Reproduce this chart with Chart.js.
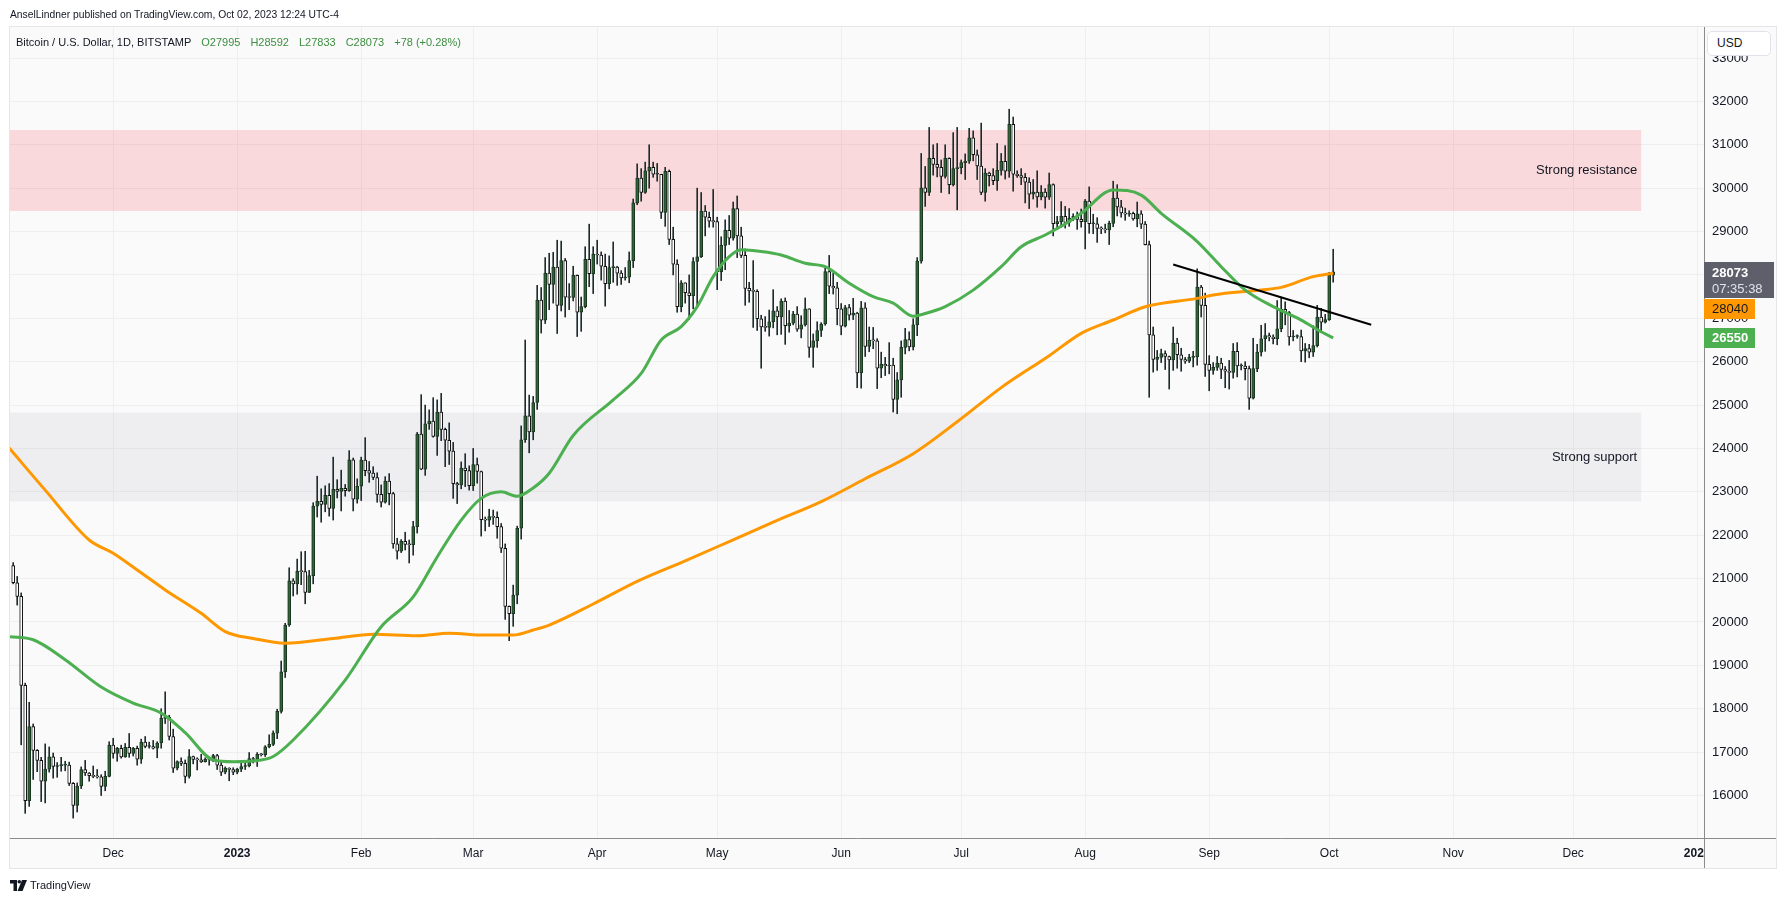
<!DOCTYPE html>
<html>
<head>
<meta charset="utf-8">
<script src="https://cdn.jsdelivr.net/npm/chart.js@4.4.0/dist/chart.umd.min.js"></script>
<style>
  html, body { margin: 0; padding: 0; background: #ffffff; }
  body { width: 1787px; height: 904px; position: relative; overflow: hidden; font-family: "Liberation Sans", Arial, sans-serif; color: #131722; }
  #chart { position: absolute; left: 0; top: 0; }
  .txt { position: absolute; white-space: nowrap; }
  #published { left: 10px; top: 9px; font-size: 10.3px; }
  #legend { left: 16px; top: 36px; font-size: 11px; }
  #legend .val { color: #3e8e41; margin-left: 10px; }
  #usd { position: absolute; left: 1707px; top: 31px; width: 64px; height: 25px; background: #fff; border: 1px solid #e0e3eb; border-radius: 5px; box-sizing: border-box; font-size: 12px; line-height: 23px; padding-left: 9px; }
  #corner { position: absolute; left: 1704px; top: 838px; width: 72px; height: 30px; background: #fafafa; border-left: 1px solid #8b8b8b; border-top: 1px solid #8b8b8b; box-sizing: border-box; }
  #brand { left: 10px; top: 879px; font-size: 11px; display: flex; align-items: center; }
  #brand svg { margin-right: 3px; }
</style>
</head>
<body>
<canvas id="chart" width="1787" height="904"></canvas>
<div class="txt" id="published">AnselLindner published on TradingView.com, Oct 02, 2023 12:24 UTC-4</div>
<div class="txt" id="legend">Bitcoin / U.S. Dollar, 1D, BITSTAMP<span class="val">O27995</span><span class="val">H28592</span><span class="val">L27833</span><span class="val">C28073</span><span class="val">+78 (+0.28%)</span></div>
<div id="usd">USD</div>
<div id="corner"></div>
<div class="txt" id="brand"><svg width="17" height="11" viewBox="0 0 17 11"><path d="M0 0h7v11H3.5V3.5H0z" fill="#131722"/><circle cx="9.3" cy="1.8" r="1.8" fill="#131722"/><path d="M12 0h5l-4.5 11H7.5z" fill="#131722"/></svg>TradingView</div>
<script>
// daily candles from Nov 6 2022 (day 0) to Oct 2 2023 (day 330)
const firstOpen = 21300;
const closes = [
  // Nov 2022 (from the 6th)
  20905,20590,18540,15880,17590,17040,16810,16330,16610,16890,16670,16690,16700,16700,16280,15770,16220,16600,16520,16460,16440,16430,16210,16440,17160,
  // Dec
  16970,17090,16890,17110,16970,17090,16840,17230,17130,17130,17090,17210,17780,17800,17360,16630,16780,16740,16440,16900,16830,16820,16780,16840,16830,16920,16700,16540,16630,16600,16540,
  // Jan 2023
  16610,16670,16680,16850,16830,16950,16940,17120,17180,17440,17940,18850,19930,20950,20880,21170,21160,20680,21070,22670,22780,22710,22920,22620,23060,23010,23080,23030,23740,22830,23130,
  // Feb
  23730,23490,23430,23330,22940,22760,23250,22960,21800,21630,21860,21790,21780,22200,24330,23520,24570,24630,24280,24840,24440,24190,23940,23190,23160,23550,23490,23140,
  // Mar
  23630,23470,22360,22350,22430,22410,22200,21700,20360,20190,20620,22160,24200,24750,24380,25060,27420,26960,28040,27780,28180,27300,28330,27490,27480,27990,27140,27270,28360,28030,28480,
  // Apr
  28460,28200,27800,28170,28180,28040,27930,27950,28330,29660,30230,29900,30400,30480,30320,30320,29440,30390,28820,28250,27270,27820,27590,27520,28310,28420,29470,29330,29240,29230,
  // May
  28070,28680,29030,28850,29530,28900,28450,27690,27630,27620,26990,26800,26790,26920,27170,27030,27400,26830,26890,27100,26750,26850,27220,26330,26480,26720,26870,28080,27740,27700,27220,
  // Jun
  26820,27250,27070,27120,25740,27240,26350,26500,26480,25850,25940,25900,25920,25130,25580,26330,26510,26340,26850,28320,30010,29900,30690,30550,30480,30270,30690,30080,30450,30470,
  // Jul
  30590,30620,31160,30770,30510,29900,30350,30290,30170,30410,30620,30390,31470,30320,30290,30250,30140,29860,29910,29800,29910,29790,30080,29180,29230,29350,29210,29310,29350,29280,29230,
  // Aug
  29700,29180,29180,29070,29060,29040,29190,29770,29570,29430,29400,29420,29290,29410,29170,28700,26620,26050,26100,26190,26120,26040,26430,26160,26050,26010,26100,26110,27720,27300,25940,
  // Sep
  25800,25870,25970,25820,25780,25750,26240,25900,25900,25840,25160,25840,26220,26530,26600,26570,26530,26760,27210,27130,26570,26580,26580,26250,26300,26220,26370,27030,26910,26970,
  // Oct
  27990,28073
];
const highs = [
  21370,21050,20670,18590,18150,17650,17060,16880,17190,17120,16980,16760,16880,16790,16770,16300,16290,16660,16810,16530,16680,16600,16480,16560,17240,
  17320,17110,17160,17200,17430,17110,17140,17300,17360,17230,17270,17240,18000,18390,17850,17530,16800,16870,16820,17060,16910,16870,16950,16870,16870,16950,16950,16790,16660,16640,16640,
  16630,16760,16770,16990,16880,16990,16970,17150,17400,17490,17990,19100,19970,21250,21000,21450,21620,21630,21190,22750,23360,23070,23140,23190,23800,23280,23500,23170,23950,23780,23300,
  23800,24250,23700,23580,23440,23160,23350,23420,22990,21930,21900,22070,21890,22320,24370,25240,25000,24890,25170,25120,25270,24470,24590,24140,23220,23690,23880,23600,
  24000,23780,23480,22420,22600,22580,22540,22270,21800,20370,20850,22210,24520,26500,25230,25200,27760,27710,28400,28500,28520,28800,28780,28380,27800,28200,28000,27490,28650,29170,28650,
  28800,28530,28480,28440,28760,28200,28100,28170,28530,29750,30560,30450,30600,31000,30600,30570,30320,30480,30420,29100,28350,27870,27820,28000,28400,30000,29900,29600,29450,29970,
  29330,28880,29270,29370,29680,29820,29100,28600,27830,28330,27660,27070,27040,27190,27660,27270,27450,27470,27180,27160,27270,27060,27470,27220,26640,26920,26900,28200,28450,28040,27830,
  27340,27300,27320,27460,27140,27390,27360,26800,26790,26530,26220,26100,26440,26080,25750,26480,26770,26690,26990,28400,30800,30500,31400,31000,31030,30650,31000,30700,31280,31400,
  30650,30790,31380,31320,30880,31500,30450,30370,30450,31030,30800,30980,31820,31640,30400,30450,30340,30240,30200,30400,30060,29990,30350,30100,29350,29690,29580,29530,29410,29450,29520,
  29740,30030,29400,29320,29110,29170,29240,30160,30080,29720,29540,29480,29450,29680,29480,29230,28780,26800,26260,26290,26250,26130,26800,26540,26310,26100,26170,26240,28140,27760,27580,
  26140,25980,26120,26080,25890,26030,26420,26440,25950,26000,25900,26540,26400,26840,26880,26660,26620,27410,27490,27380,27160,26720,26620,26730,26420,26400,26830,27300,27230,27090,
  28060,28592
];
const lows = [
  20880,20390,17170,15590,15750,16370,16550,15860,15830,16540,16400,16420,16560,16570,16230,15480,15620,16160,16460,16330,16410,16400,16000,16110,16430,
  16860,16790,16860,16880,16880,16910,16700,16740,17100,17090,17070,16870,17090,17660,17280,16530,16590,16690,16290,16400,16730,16590,16760,16770,16700,16780,16600,16460,16500,16340,16480,
  16500,16550,16600,16660,16750,16670,16910,16900,17100,17150,17310,17900,18720,19900,20600,20640,20860,20420,20680,20880,22420,22300,22540,22440,22350,22860,22560,22900,23010,22560,22740,
  22800,23370,23220,23280,22760,22650,22740,22700,21700,21450,21600,21660,21360,21540,22050,23510,23380,24440,24260,23840,24180,23580,23630,22850,22730,23070,23120,23040,
  23030,23200,21980,22100,22200,22250,21930,21600,20060,19570,19900,20420,21910,24140,23900,24200,24900,26660,26880,27200,27350,26650,27170,27030,27200,27400,26580,26700,27240,27730,27570,
  28250,27880,27280,27680,27830,27760,27780,27880,27820,28170,29620,29700,29880,30000,30250,30160,29300,29120,28700,28000,27140,27150,27350,26970,27220,27250,28400,28900,29100,29100,
  27660,27870,28120,28700,28800,28400,28400,27300,27370,26790,26720,25850,26700,26590,26780,26620,26630,26400,26680,26850,26700,26550,26820,26100,25870,26330,26580,26840,27570,27560,26850,
  26620,26800,26960,26970,25400,25390,26120,26230,26300,25380,25630,25680,25720,24840,24800,25180,26180,26250,26270,26600,28270,29580,29830,30300,30260,29900,30230,29870,30050,29500,
  30330,30200,30570,30630,30200,29850,29700,30050,30080,29950,30300,30210,30250,29930,30250,30080,29660,29530,29750,29560,29730,29540,29740,28900,29050,29100,29080,29120,29250,29050,29100,
  28600,28960,28950,28750,28950,28970,28700,29110,29360,29330,29260,29350,29260,29110,29070,28690,25180,25760,25800,25980,25820,25370,25800,25850,25780,25960,25980,25880,25920,27030,25660,
  25330,25710,25800,25610,25400,25370,25620,25650,25810,25580,24900,25140,25770,26130,26240,26480,26410,26390,26690,26850,26380,26480,26540,26000,25990,26090,26120,26340,26670,26890,
  26950,27833
];

// moving averages (day index, price)
const ma50Days   = [-1, 5, 13, 22, 30, 37, 43, 50, 55, 62, 65, 70, 83, 92, 100, 106, 112, 117, 122, 126, 130, 134, 140, 150, 157, 162, 167, 171, 175, 179, 182, 187, 192, 198, 203, 209, 215, 220, 225, 228, 233, 240, 247, 252, 258, 264, 267, 275, 282, 287, 296, 302, 308, 315, 322, 327, 330];
const ma50Values = [19660, 19590, 19130, 18500, 18130, 17900, 17450, 16820, 16780, 16820, 16900, 17280, 18660, 19890, 20580, 21500, 22350, 22850, 23000, 22900, 23090, 23430, 24300, 25120, 25730, 26500, 26810, 27270, 27960, 28420, 28580, 28540, 28460, 28270, 28190, 27810, 27500, 27350, 27050, 27110, 27270, 27650, 28190, 28650, 28920, 29230, 29420, 29960, 29840, 29420, 28770, 28190, 27650, 27270, 26960, 26690, 26550];
const ma200Days   = [-1, 8, 19, 25, 31, 38, 47, 53, 60, 68, 80, 90, 101, 109, 118, 125, 130, 134, 145, 156, 168, 179, 190, 202, 213, 225, 236, 247, 259, 267, 275, 283, 296, 300, 312, 317, 325, 330];
const ma200Values = [24010, 23040, 21890, 21585, 21200, 20740, 20200, 19780, 19620, 19510, 19620, 19720, 19685, 19740, 19700, 19700, 19815, 19930, 20415, 20936, 21409, 21855, 22303, 22775, 23301, 23879, 24615, 25403, 26139, 26654, 26961, 27268, 27460, 27537, 27653, 27714, 27960, 28040];

// drawn trend line and zones
const trendDays = [290, 339.5];
const trendValues = [28240, 26850];
const resistanceZone = [29475, 31340];
const supportZone = [22780, 24830];
const zoneEndDay = 407;

// axis ticks
const monthDays = [25, 56, 87, 115, 146, 176, 207, 237, 268, 299, 329, 360, 390, 421];
const monthLabels = ['Dec', '2023', 'Feb', 'Mar', 'Apr', 'May', 'Jun', 'Jul', 'Aug', 'Sep', 'Oct', 'Nov', 'Dec', '2024'];
const priceTicks = [16000, 17000, 18000, 19000, 20000, 21000, 22000, 23000, 24000, 25000, 26000, 27000, 28000, 29000, 30000, 31000, 32000, 33000];
const timerText = '07:35:38';

// open of each day is the previous day's close (24h market)
const opens = closes.map((c, i) => i === 0 ? firstOpen : closes[i - 1]);
const lastOpen = 27995;
opens[opens.length - 1] = lastOpen;

const upFill = '#2f6436';
const upBorder = '#1a3420';
const downFill = '#ffffff';
const downBorder = '#111111';

const wickData = closes.map((c, i) => ({ x: i, y: [lows[i], highs[i]] }));
const bodyData = closes.map((c, i) => ({ x: i, y: [opens[i], c] }));
const bodyFill = closes.map((c, i) => c >= opens[i] ? upFill : downFill);
const bodyBorder = closes.map((c, i) => c >= opens[i] ? upBorder : downBorder);

const FONT = '"Liberation Sans", Arial, sans-serif';
Chart.defaults.font.family = FONT;
Chart.defaults.color = '#131722';

// pane background, zones and price badges
const panePlugin = {
  id: 'pane',
  beforeDraw(chart) {
    const ctx = chart.ctx;
    ctx.save();
    ctx.fillStyle = '#ffffff';
    ctx.fillRect(0, 0, chart.width, chart.height);
    ctx.fillStyle = '#fafafa';
    ctx.fillRect(10, 27, 1766, 841);
    ctx.strokeStyle = '#e6e6ea';
    ctx.lineWidth = 1;
    ctx.strokeRect(9.5, 26.5, 1767, 842);
    ctx.restore();
  },
  beforeDatasetsDraw(chart) {
    const ctx = chart.ctx;
    const x = chart.scales.x, y = chart.scales.y;
    const area = chart.chartArea;
    const right = x.getPixelForValue(zoneEndDay);
    ctx.save();
    const zones = [
      { v: resistanceZone, color: 'rgba(242, 54, 69, 0.17)', label: 'Strong resistance' },
      { v: supportZone, color: 'rgba(120, 123, 150, 0.09)', label: 'Strong support' }
    ];
    zones.forEach(z => {
      const top = y.getPixelForValue(z.v[1]);
      const bottom = y.getPixelForValue(z.v[0]);
      ctx.fillStyle = z.color;
      ctx.fillRect(area.left, top, right - area.left, bottom - top);
      ctx.fillStyle = '#131722';
      ctx.font = '13px ' + FONT;
      ctx.textAlign = 'right';
      ctx.textBaseline = 'middle';
      ctx.fillText(z.label, right - 4, (top + bottom) / 2);
    });
    ctx.restore();
  },
  afterDraw(chart) {
    const ctx = chart.ctx;
    const y = chart.scales.y;
    const left = chart.chartArea.right;
    const lastClose = closes[closes.length - 1];
    const ma200Last = ma200Values[ma200Values.length - 1];
    const ma50Last = ma50Values[ma50Values.length - 1];
    ctx.save();
    ctx.textAlign = 'left';
    ctx.textBaseline = 'middle';

    const pc = Math.round(y.getPixelForValue(lastClose));
    ctx.fillStyle = '#5d606b';
    ctx.fillRect(left, pc - 10, 70, 36);
    ctx.fillStyle = '#ffffff';
    ctx.font = 'bold 13px ' + FONT;
    ctx.fillText(String(lastClose), left + 8, pc + 1);
    ctx.fillStyle = '#e0e3eb';
    ctx.font = '13px ' + FONT;
    ctx.fillText(timerText, left + 8, pc + 17);

    const po = Math.max(Math.round(y.getPixelForValue(ma200Last)) - 10, pc + 27);
    ctx.fillStyle = '#ff9800';
    ctx.fillRect(left, po, 51, 20);
    ctx.fillStyle = '#131722';
    ctx.font = '13px ' + FONT;
    ctx.fillText(String(ma200Last), left + 8, po + 10.5);

    const pg = Math.round(y.getPixelForValue(ma50Last));
    ctx.fillStyle = '#4caf50';
    ctx.fillRect(left, pg - 10, 51, 20);
    ctx.fillStyle = '#ffffff';
    ctx.font = 'bold 13px ' + FONT;
    ctx.fillText(String(ma50Last), left + 8, pg + 0.5);
    ctx.restore();
  }
};

const chart = new Chart(document.getElementById('chart'), {
  type: 'bar',
  data: {
    datasets: [
      {
        type: 'line',
        data: trendDays.map((d, i) => ({ x: d, y: trendValues[i] })),
        borderColor: '#000000',
        borderWidth: 2,
        pointRadius: 0,
        tension: 0,
        order: -3
      },
      {
        type: 'line',
        data: ma50Days.map((d, i) => ({ x: d, y: ma50Values[i] })),
        borderColor: '#4caf50',
        borderWidth: 3,
        pointRadius: 0,
        cubicInterpolationMode: 'monotone',
        order: -2
      },
      {
        type: 'line',
        data: ma200Days.map((d, i) => ({ x: d, y: ma200Values[i] })),
        borderColor: '#ff9800',
        borderWidth: 3,
        pointRadius: 0,
        cubicInterpolationMode: 'monotone',
        order: -1
      },
      {
        data: bodyData,
        backgroundColor: bodyFill,
        borderColor: bodyBorder,
        borderWidth: 1,
        borderSkipped: false,
        barThickness: 3,
        minBarLength: 1,
        grouped: false,
        order: 0
      },
      {
        data: wickData,
        backgroundColor: '#1e2b2e',
        borderWidth: 0,
        barThickness: 1,
        grouped: false,
        order: 1
      }
    ]
  },
  options: {
    responsive: false,
    devicePixelRatio: 1,
    animation: false,
    layout: { padding: { left: 10, top: 27, right: 11, bottom: 36 } },
    plugins: { legend: { display: false }, tooltip: { enabled: false } },
    scales: {
      x: {
        type: 'linear',
        min: -0.8,
        max: 422.7,
        offset: false,
        grid: { color: '#efefef', drawTicks: false, offset: false },
        border: { color: '#8b8b8b' },
        afterFit: s => { s.height = 30; },
        afterBuildTicks: s => { s.ticks = monthDays.map(v => ({ value: v })); },
        ticks: {
          autoSkip: false,
          maxRotation: 0,
          padding: 8,
          color: '#131722',
          callback: v => monthLabels[monthDays.indexOf(v)],
          font: c => ({ family: FONT, size: 12, weight: (c.index === 1 || c.index === 13) ? 'bold' : 'normal' })
        }
      },
      y: {
        position: 'right',
        min: 15021,
        max: 33715,
        beginAtZero: false,
        grid: { color: '#efefef', drawTicks: false },
        border: { color: '#8b8b8b' },
        afterFit: s => { s.width = 72; },
        afterBuildTicks: s => { s.ticks = priceTicks.map(v => ({ value: v })); },
        ticks: {
          padding: 8,
          color: '#131722',
          font: { family: FONT, size: 13 },
          callback: v => String(v)
        }
      }
    }
  },
  plugins: [panePlugin]
});
</script>
</body>
</html>
